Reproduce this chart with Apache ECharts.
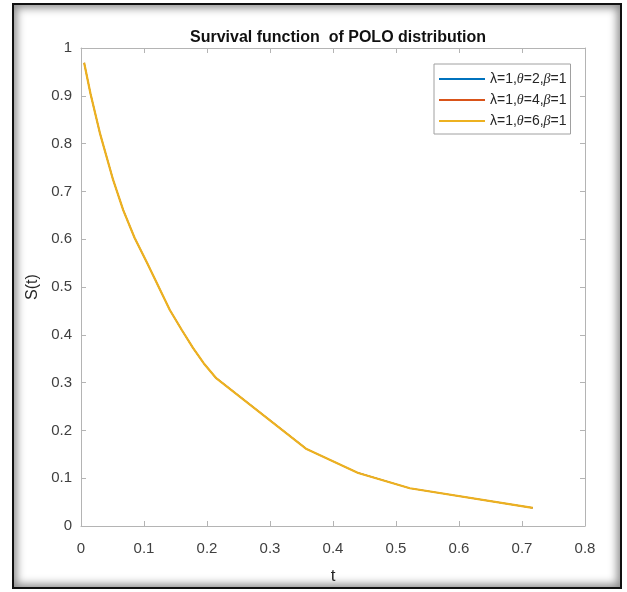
<!DOCTYPE html>
<html>
<head>
<meta charset="utf-8">
<script src="https://cdn.jsdelivr.net/npm/echarts@6/dist/echarts.min.js"></script>
<style>
    body { margin: 0; background: #fff; }
    #frame {
        position: absolute; left: 12px; top: 3px; width: 606px; height: 582px;
        border: 2px solid #111;
        box-shadow: inset 0 0 9px 3px rgba(0, 0, 0, 0.45);
    }
    #main { position: absolute; left: 0; top: 0; width: 627px; height: 592px; }
</style>
</head>
<body>
<div id="frame"></div>
<div id="main"></div>
<script>
// values
const tValues = [0.005, 0.015, 0.03, 0.051, 0.067, 0.085, 0.105, 0.141, 0.16, 0.178, 0.195, 0.214, 0.358, 0.44, 0.522, 0.717];
const sValues = [0.969, 0.905, 0.822, 0.724, 0.661, 0.603, 0.55, 0.452, 0.41, 0.372, 0.34, 0.31, 0.161, 0.111, 0.079, 0.038];
const thetas = [2, 4, 6];
const seriesColors = ['#0072BD', '#D95319', '#EDB120'];
const xTicks = { min: 0, max: 0.8, interval: 0.1 };
const yTicks = { min: 0, max: 1, interval: 0.1 };

const chart = echarts.init(document.getElementById('main'));

const points = tValues.map((t, i) => [t, sValues[i]]);
const names = thetas.map(th => 'λ=1,θ=' + th + ',β=1');

const axisGray = '#b4b4b4';
const labelColor = '#404040';

function boxAxis(pos, range, withLabels, margin) {
    return {
        type: 'value',
        position: pos,
        min: range.min, max: range.max, interval: range.interval,
        axisLine: { show: true, onZero: false, lineStyle: { color: axisGray, width: 1 } },
        axisTick: { show: true, inside: true, length: 5, lineStyle: { color: axisGray } },
        axisLabel: { show: withLabels, color: labelColor, fontSize: 15, fontFamily: 'Liberation Sans', margin: margin || 10 },
        splitLine: { show: false }
    };
}

const xMain = boxAxis('bottom', xTicks, true, 15);
xMain.name = 't';
xMain.nameLocation = 'middle';
xMain.nameGap = 42;
xMain.nameTextStyle = { color: '#262626', fontSize: 17, fontFamily: 'Liberation Sans' };

const yMain = boxAxis('left', yTicks, true, 9);
yMain.name = 'S(t)';
yMain.nameLocation = 'middle';
yMain.nameGap = 38;
yMain.nameTextStyle = { color: '#262626', fontSize: 16, fontFamily: 'Liberation Sans' };

chart.setOption({
    animation: false,
    title: {
        text: 'Survival function  of POLO distribution',
        left: 333, top: 25, textAlign: 'center',
        textStyle: { fontSize: 16, fontWeight: 'bold', color: '#111', fontFamily: 'Liberation Sans' }
    },
    grid: { left: 81, top: 48, right: 42, bottom: 66 },
    xAxis: [xMain, boxAxis('top', xTicks, false)],
    yAxis: [yMain, boxAxis('right', yTicks, false)],
    legend: {
        orient: 'vertical',
        left: 434, top: 64,
        padding: [8, 4, 6, 5],
        itemGap: 7,
        itemWidth: 46, itemHeight: 2,
        icon: 'rect',
        borderColor: '#a0a0a0', borderWidth: 1,
        backgroundColor: '#fff',
        data: names,
        formatter: name => {
            const th = name.split('θ=')[1].split(',')[0];
            return '{n|λ=1,}{i|θ}{n|=' + th + ',}{i|β}{n|=1}';
        },
        textStyle: {
            rich: {
                n: { fontSize: 14, color: '#262626', fontFamily: 'Liberation Sans' },
                i: { fontSize: 14, color: '#262626', fontStyle: 'italic', fontFamily: 'Liberation Serif' }
            }
        }
    },
    series: names.map((name, i) => ({
        name: name,
        type: 'line',
        data: points,
        showSymbol: false,
        symbol: 'none',
        color: seriesColors[i],
        lineStyle: { width: i === 2 ? 2.2 : 1.2, color: seriesColors[i] },
        z: 2 + i
    }))
});
</script>
</body>
</html>
